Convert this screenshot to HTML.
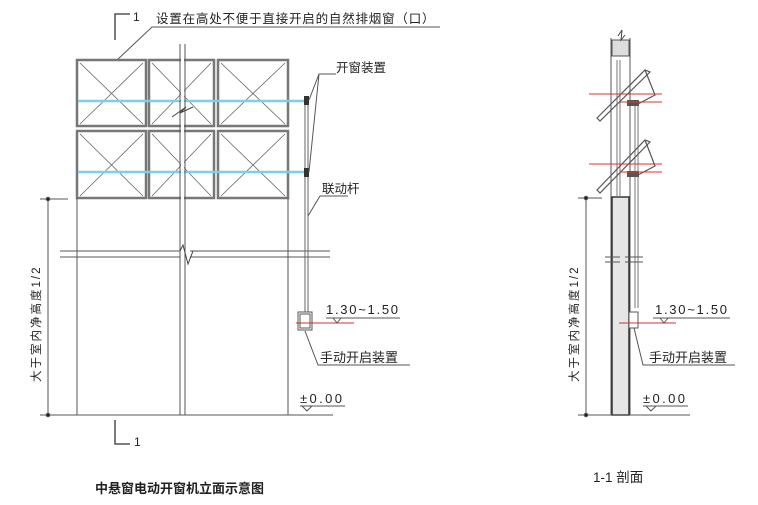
<!DOCTYPE html>
<html><head><meta charset="utf-8"><style>
body{margin:0;background:#fff;width:758px;height:500px;overflow:hidden}
text{font-family:"Liberation Sans","Noto Sans CJK SC",sans-serif;fill:#222}
</style></head><body>
<svg width="758" height="500" viewBox="0 0 758 500" xmlns="http://www.w3.org/2000/svg">
<g stroke="#555" stroke-width="1" fill="none">
<path d="M115 40 V14 H130" stroke="#333" stroke-width="1.3"/>
<path d="M117 60 L152 27 H440"/>
<g stroke="#777" stroke-width="2.5">
<rect x="77" y="60" width="69" height="66"/><rect x="149" y="60" width="65" height="66"/><rect x="218" y="60" width="70" height="66"/>
<rect x="77" y="131" width="69" height="67"/><rect x="149" y="131" width="65" height="67"/><rect x="218" y="131" width="70" height="67"/>
</g>
<g stroke="#666" stroke-width="0.8">
<path d="M80 63 L143 124 M143 63 L80 124 M152 63 L211 124 M211 63 L152 124 M221 63 L285 124 M285 63 L221 124"/>
<path d="M80 134 L143 196 M143 134 L80 196 M152 134 L211 196 M211 134 L152 196 M221 134 L285 196 M285 134 L221 196"/>
</g>
<path d="M78 101 H305 M78 172 H305" stroke="#7cd0e6" stroke-width="2.5"/>
<path d="M180 44 V415 M185 44 V415" stroke="#555"/>
<rect x="181" y="44" width="3" height="371" fill="#fff" stroke="none"/>
<path d="M172 117 L186 107 L180 113 L193 107" stroke="#444"/>
<path d="M77 198 V415 M288 198 V415"/>
<path d="M60 251 H180 M60 257 H180 M190 251 H330 M190 257 H330" stroke="#555"/>
<path d="M180 251 L183 245 L188 264 L193 251" stroke="#444"/>
<path d="M305 97 V312 M308 97 V312" stroke="#666"/>
<rect x="304" y="96" width="5" height="9" fill="#333" stroke="none"/>
<rect x="304" y="168" width="5" height="9" fill="#333" stroke="none"/>
<path d="M309 100 L319 74 H336 M309 172 L319 74" stroke="#555"/>
<path d="M308 216 L320 196 H348"/>
<rect x="298" y="312" width="14" height="18" stroke="#555"/>
<rect x="300" y="314" width="10" height="14"/>
<path d="M296 323 H354" stroke="#c33"/>
<path d="M305 331 L318 365 H410"/>
<path d="M326 318 H400 M333 318 L337 323 L341 318"/>
<path d="M40 415 H333 M300 406 H345 M302 406 L307 411 L312 406"/>
<path d="M48 199 V415 M40 199 H68"/>
<circle cx="48" cy="199" r="1.8" fill="#222"/><circle cx="48" cy="415" r="1.8" fill="#222"/>
<path d="M115 420 V444 H130" stroke="#333" stroke-width="1.3"/>

<path d="M611 38 V415 M630 38 V415"/>
<rect x="612" y="40" width="17" height="16" fill="#ddd"/>
<path d="M618 36 L622 30 L621 40 L625 35" stroke="#444"/>
<rect x="612" y="197" width="17" height="218" fill="#e6e6e6" stroke="#333" stroke-width="1.5"/>
<path d="M617 60 V197 M620 60 V197" stroke="#777"/>
<path d="M635 105 V308 M638 105 V308" stroke="#777"/>
<g stroke="#555" stroke-width="1.2">
<path d="M597 118 L645 70 L650 72 L600 121 Z"/>
<path d="M645 70 L655 95 L636 105"/>
<path d="M597 190 L645 140 L650 142 L600 193 Z"/>
<path d="M645 140 L655 166 L636 176"/>
</g>
<rect x="627" y="100" width="12" height="6" fill="#555" stroke="none"/>
<rect x="627" y="171" width="12" height="6" fill="#555" stroke="none"/>
<path d="M589 94 H662 M620 102 H662 M589 164 H662 M620 172 H662" stroke="#d33"/>
<path d="M605 257 H620 M605 262 H620 M625 257 H643 M625 262 H643"/>
<rect x="629" y="312" width="9" height="16" fill="#fff"/>
<path d="M619 323 H676" stroke="#c33"/>
<path d="M634 328 L643 365 H735"/>
<path d="M653 318 H730 M660 318 L664 323 L668 318"/>
<path d="M630 415 H690 M643 406 H688 M646 406 L651 411 L656 406"/>
<path d="M586 198 V415 M578 198 H602 M578 415 H630"/>
<circle cx="586" cy="198" r="1.8" fill="#222"/><circle cx="586" cy="415" r="1.8" fill="#222"/>
</g>
<text x="133" y="21" font-size="12">1</text>
<text x="156" y="23" font-size="12.5" letter-spacing="0.8">设置在高处不便于直接开启的自然排烟窗（口）</text>
<text x="336" y="72" font-size="12.5">开窗装置</text>
<text x="322" y="193" font-size="12.5">联动杆</text>
<text x="326" y="314" font-size="13" font-family="Liberation Mono" textLength="72">1.30~1.50</text>
<text x="320" y="362" font-size="13">手动开启装置</text>
<text x="300" y="403" font-size="13" font-family="Liberation Mono" textLength="42">±0.00</text>
<text x="134" y="446" font-size="12">1</text>
<text transform="translate(40,382) rotate(-90)" font-size="11.5" letter-spacing="2">大于室内净高度1/2</text>
<text x="95" y="493" font-size="13" font-weight="bold">中悬窗电动开窗机立面示意图</text>
<text transform="translate(578,382) rotate(-90)" font-size="11.5" letter-spacing="2">大于室内净高度1/2</text>
<text x="655" y="314" font-size="13" font-family="Liberation Mono" textLength="72">1.30~1.50</text>
<text x="649" y="362" font-size="13">手动开启装置</text>
<text x="643" y="403" font-size="13" font-family="Liberation Mono" textLength="42">±0.00</text>
<text x="593" y="482" font-size="13.5">1-1 剖面</text>
</svg>
</body></html>
